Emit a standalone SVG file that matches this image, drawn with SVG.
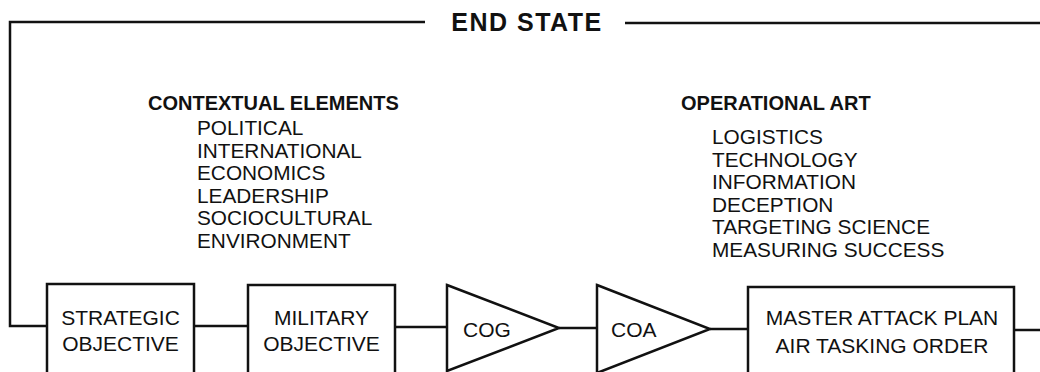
<svg xmlns="http://www.w3.org/2000/svg" width="1040" height="372" viewBox="0 0 1040 372">
<style>
.ln{fill:none;stroke:#111;stroke-width:2.5}
.nd{fill:#fff;stroke:#111;stroke-width:2.5}
.t{font-family:"Liberation Sans",Arial,sans-serif;font-size:20.8px;fill:#111}
.bx{font-size:21px}
.b{font-family:"Liberation Sans",Arial,sans-serif;font-size:20px;font-weight:bold;fill:#111}
.c{text-anchor:middle}
</style>
<g id="connectors">
<path class="ln" d="M425,22 H10 V326 H47"/>
<path class="ln" d="M625,23 H1040"/>
<path class="ln" d="M194,326 H248"/>
<path class="ln" d="M395,327 H447"/>
<path class="ln" d="M559,328 H597"/>
<path class="ln" d="M710,329 H748"/>
<path class="ln" d="M1014,330 H1040"/>
</g>
<g id="end-state">
<text class="b" x="527" y="31" style="font-size:25px;letter-spacing:1.5px" text-anchor="middle">END STATE</text>
</g>
<g id="contextual-elements">
<text class="b" x="148" y="110">CONTEXTUAL ELEMENTS</text>
<text class="t" x="197" y="135">POLITICAL</text>
<text class="t" x="197" y="157.6">INTERNATIONAL</text>
<text class="t" x="197" y="180.2">ECONOMICS</text>
<text class="t" x="197" y="202.8">LEADERSHIP</text>
<text class="t" x="197" y="225.4">SOCIOCULTURAL</text>
<text class="t" x="197" y="248">ENVIRONMENT</text>
</g>
<g id="operational-art">
<text class="b" x="681" y="110">OPERATIONAL ART</text>
<text class="t" x="712" y="144">LOGISTICS</text>
<text class="t" x="712" y="166.6">TECHNOLOGY</text>
<text class="t" x="712" y="189.2">INFORMATION</text>
<text class="t" x="712" y="211.8">DECEPTION</text>
<text class="t" x="712" y="234.4">TARGETING SCIENCE</text>
<text class="t" x="712" y="257">MEASURING SUCCESS</text>
</g>
<g id="strategic-objective">
<rect class="nd" x="47" y="284" width="147" height="100"/>
<text class="t bx c" x="120.5" y="325">STRATEGIC</text>
<text class="t bx c" x="120.5" y="351">OBJECTIVE</text>
</g>
<g id="military-objective">
<rect class="nd" x="248" y="285" width="147" height="100"/>
<text class="t bx c" x="321.5" y="325">MILITARY</text>
<text class="t bx c" x="321.5" y="351">OBJECTIVE</text>
</g>
<g id="cog">
<path class="nd" d="M447,285 L559,328 L447,371 Z"/>
<text class="t bx" x="463" y="337">COG</text>
</g>
<g id="coa">
<path class="nd" d="M597,285 L710,329 L597,373 Z"/>
<text class="t bx" x="611" y="337">COA</text>
</g>
<g id="master-attack-plan">
<rect class="nd" x="748" y="287" width="266" height="100"/>
<text class="t bx c" x="882" y="325">MASTER ATTACK PLAN</text>
<text class="t bx c" x="882" y="353">AIR TASKING ORDER</text>
</g>
</svg>
